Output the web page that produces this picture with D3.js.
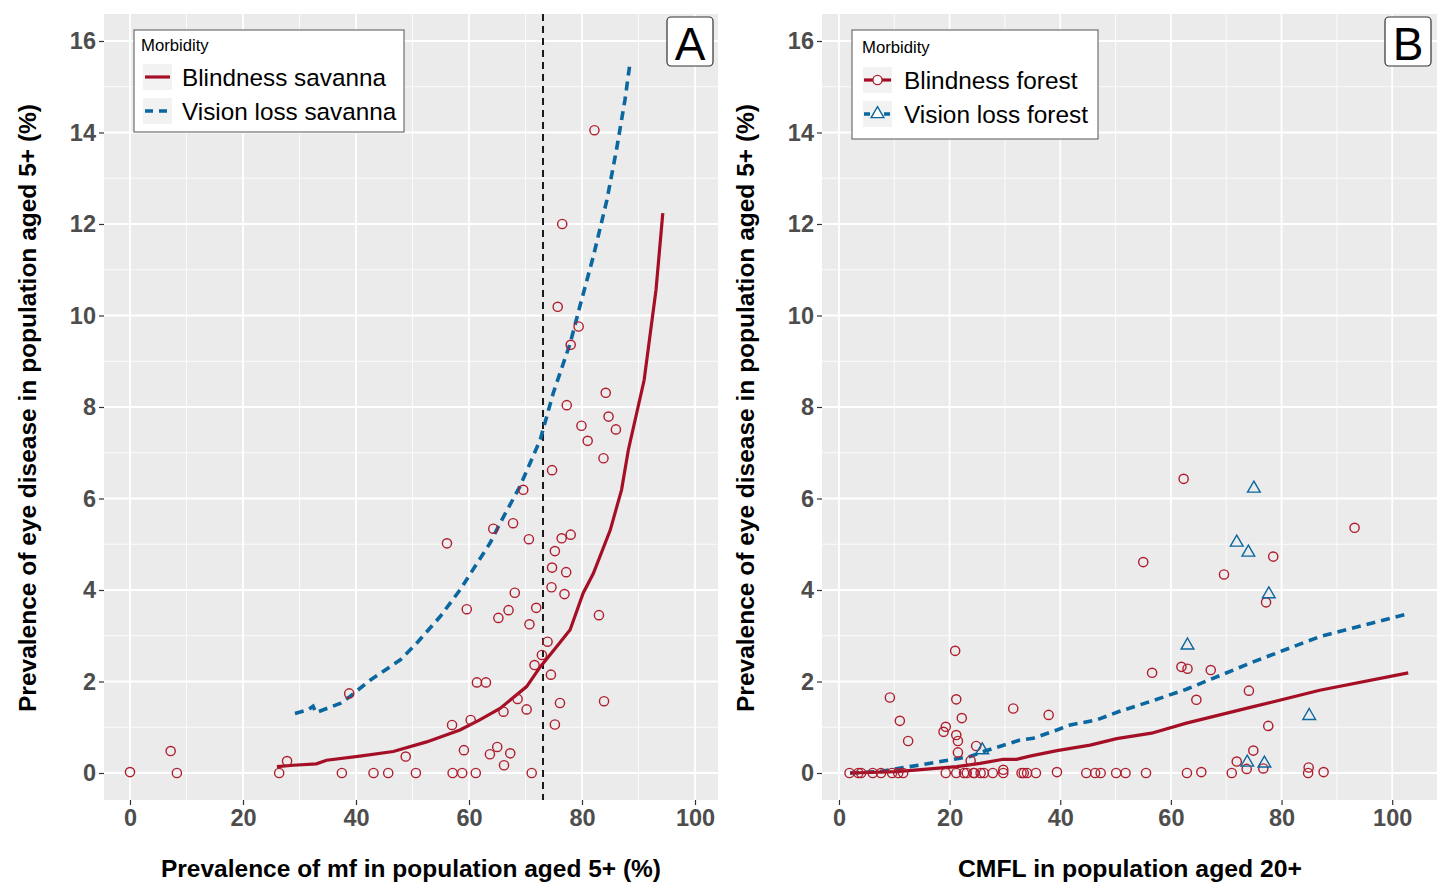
<!DOCTYPE html>
<html>
<head>
<meta charset="utf-8">
<script src="https://cdn.jsdelivr.net/npm/d3@7/dist/d3.min.js"></script>
<style>
  html, body { margin: 0; padding: 0; background: #fff; }
  svg { display: block; }
  text { font-family: "Liberation Sans", Arial, Helvetica, sans-serif; }
</style>
</head>
<body>
<svg id="chart" width="1440" height="882"></svg>
<script>
// ---------------- DATA ----------------
// Panel A: observed blindness (savanna), x = mf prevalence (%), y = prevalence (%)
const obsA_x = [0, 7.2, 8.3, 26.4, 27.8, 37.5, 38.8, 43.1, 45.7, 48.8, 50.6, 56.1, 57.0, 57.1, 58.8, 59.1, 59.6, 60.3, 61.2, 61.4, 63.0, 63.7, 64.3, 65.0, 65.2, 66.1, 66.2, 67.0, 67.3, 67.8, 68.1, 68.6, 69.6, 70.2, 70.6, 70.7, 71.1, 71.9, 71.6, 72.9, 73.9, 74.5, 74.7, 74.6, 74.7, 75.2, 75.2, 75.7, 76.5, 76.1, 76.4, 77.2, 76.9, 77.3, 78.0, 78.0, 79.4, 79.9, 81.0, 82.2, 83.0, 83.8, 83.9, 84.2, 84.7, 86.0];
const obsA_y = [0.02, 0.48, 0, 0, 0.26, 0, 1.74, 0, 0, 0.36, 0, 5.02, 1.05, 0, 0, 0.50, 3.58, 1.16, 0, 1.98, 1.98, 0.41, 5.34, 0.57, 3.39, 1.34, 0.17, 3.56, 0.43, 5.46, 3.94, 1.62, 6.19, 1.39, 5.11, 3.25, 0, 3.61, 2.36, 2.58, 2.87, 2.15, 6.62, 4.06, 4.49, 4.85, 1.06, 10.19, 12.0, 1.53, 5.13, 4.39, 3.91, 8.04, 5.21, 9.36, 9.76, 7.59, 7.26, 14.05, 3.45, 6.88, 1.57, 8.31, 7.79, 7.51];

const blindSav_x = [26.0, 28.9, 33.0, 34.8, 40.7, 46.6, 52.5, 58.4, 61.9, 65.5, 70.2, 72.6, 75.5, 77.9, 80.2, 82.0, 85.0, 87.0, 88.2, 91.0, 93.1, 94.3];
const blindSav_y = [0.14, 0.17, 0.20, 0.28, 0.37, 0.47, 0.68, 0.94, 1.16, 1.41, 1.89, 2.32, 2.76, 3.13, 3.93, 4.36, 5.31, 6.19, 7.06, 8.59, 10.56, 12.24];

const visSav_x = [29.2, 31.5, 32.4, 32.9, 37.2, 38.9, 42.5, 47.8, 50.7, 54.9, 58.4, 61.4, 63.7, 65.5, 69.0, 72.6, 74.9, 77.9, 79.6, 82.0, 84.4, 86.1, 87.6, 88.5];
const visSav_y = [1.30, 1.38, 1.46, 1.32, 1.52, 1.67, 2.03, 2.47, 2.83, 3.42, 4.00, 4.58, 5.02, 5.46, 6.26, 7.28, 8.30, 9.39, 10.19, 11.29, 12.52, 13.62, 14.71, 15.52];

const thresholdA = [73.1];

// Panel B: x = CMFL in population aged 20+
const obsBlindB_x = [1.9, 3.5, 4.0, 6.1, 7.6, 9.6, 10.7, 11.6, 19.3, 21.2, 22.6, 23.1, 24.3, 24.5, 25.6, 26.2, 27.8, 29.7, 29.7, 33.0, 33.4, 34.0, 35.6, 39.4, 44.7, 46.3, 47.3, 50.1, 51.8, 55.5, 62.9, 65.5, 71.0, 73.7, 76.7, 84.8, 84.9, 87.6,
  21.0, 9.2, 21.2, 31.5, 37.9, 11.0, 22.2, 19.3, 18.9, 21.2, 21.5, 12.5, 24.8, 21.5, 23.8,
  62.3, 93.2, 78.5, 55.0, 69.6, 77.2, 56.6, 61.9, 63.0, 67.2, 64.6, 74.1, 77.6, 74.9, 71.9];
const obsBlindB_y = [0, 0, 0, 0, 0, 0, 0, 0, 0, 0, 0, 0, 0, 0, 0, 0, 0, 0, 0.07, 0, 0, 0, 0, 0.02, 0, 0, 0, 0, 0, 0, 0, 0.02, 0, 0.09, 0.10, 0, 0.12, 0.02,
  2.67, 1.65, 1.61, 1.41, 1.27, 1.14, 1.20, 1.01, 0.90, 0.83, 0.70, 0.70, 0.59, 0.45, 0.27,
  6.43, 5.36, 4.73, 4.61, 4.34, 3.73, 2.19, 2.32, 2.28, 2.25, 1.60, 1.80, 1.03, 0.49, 0.25];

const obsVisB_x = [25.9, 75.0, 71.9, 74.0, 77.7, 63.0, 85.0, 73.8, 76.9];
const obsVisB_y = [0.50, 6.22, 5.04, 4.82, 3.91, 2.79, 1.25, 0.23, 0.21];

const blindFor_x = [2, 10.4, 21.3, 25.5, 29.7, 32.1, 34.5, 39.4, 45.4, 50.2, 56.5, 62.8, 74.9, 86.9, 102.9];
const blindFor_y = [0, 0.03, 0.14, 0.21, 0.30, 0.30, 0.37, 0.49, 0.61, 0.75, 0.87, 1.09, 1.45, 1.81, 2.19];

const visFor_x = [2, 7.4, 12.8, 18.3, 23.7, 26.1, 30.9, 32.7, 35.1, 39.4, 41.8, 46.6, 50.5, 56.2, 62.8, 74.9, 86.9, 102.9];
const visFor_y = [0, 0.03, 0.14, 0.25, 0.36, 0.47, 0.65, 0.72, 0.76, 0.94, 1.05, 1.16, 1.34, 1.56, 1.83, 2.43, 2.98, 3.48];

const xTicks = [0, 20, 40, 60, 80, 100];
const yTicks = [0, 2, 4, 6, 8, 10, 12, 14, 16];
const xMinor = [10, 30, 50, 70, 90];
const yMinor = [1, 3, 5, 7, 9, 11, 13, 15];

const legendA = ["Blindness savanna", "Vision loss savanna"];
const legendB = ["Blindness forest", "Vision loss forest"];
const legendTitle = "Morbidity";

// ---------------- STYLE ----------------
const RED = "#a50f26";
const RED_PT = "#b01d2e";
const BLUE = "#0b679f";
const PANEL_BG = "#ebebeb";
const TICK_COL = "#4d4d4d";

const svg = d3.select("#chart");
const pTop = 14, pBottom = 800;
const y = d3.scaleLinear().domain([-0.59, 16.59]).range([pBottom, pTop]);

function panel(cfg) {
  const x = d3.scaleLinear().domain(cfg.xDomain).range([cfg.left, cfg.right]);
  const g = svg.append("g");
  g.append("rect").attr("x", cfg.left).attr("y", pTop)
    .attr("width", cfg.right - cfg.left).attr("height", pBottom - pTop).attr("fill", PANEL_BG);
  g.selectAll(".vminor").data(xMinor).enter().append("line")
    .attr("x1", d => x(d)).attr("x2", d => x(d)).attr("y1", pTop).attr("y2", pBottom)
    .attr("stroke", "#fff").attr("stroke-width", 0.8);
  g.selectAll(".hminor").data(yMinor).enter().append("line")
    .attr("y1", d => y(d)).attr("y2", d => y(d)).attr("x1", cfg.left).attr("x2", cfg.right)
    .attr("stroke", "#fff").attr("stroke-width", 0.8);
  g.selectAll(".vmajor").data(xTicks).enter().append("line")
    .attr("x1", d => x(d)).attr("x2", d => x(d)).attr("y1", pTop).attr("y2", pBottom)
    .attr("stroke", "#fff").attr("stroke-width", 1.8);
  g.selectAll(".hmajor").data(yTicks).enter().append("line")
    .attr("y1", d => y(d)).attr("y2", d => y(d)).attr("x1", cfg.left).attr("x2", cfg.right)
    .attr("stroke", "#fff").attr("stroke-width", 1.8);

  const ax = g.append("g").attr("transform", `translate(0,${pBottom})`)
    .call(d3.axisBottom(x).tickValues(xTicks).tickSize(5).tickPadding(4).tickFormat(d3.format("d")));
  const ay = g.append("g").attr("transform", `translate(${cfg.left},0)`)
    .call(d3.axisLeft(y).tickValues(yTicks).tickSize(5).tickPadding(3).tickFormat(d3.format("d")));
  [ax, ay].forEach(a => {
    a.select(".domain").remove();
    a.selectAll(".tick line").attr("stroke", "#333").attr("stroke-width", 1.2);
    a.selectAll(".tick text").attr("fill", TICK_COL).attr("font-size", 23.5)
      .attr("font-weight", "bold").attr("font-family", '"Liberation Sans", Arial, sans-serif');
  });

  g.append("text").attr("x", cfg.xTitleX).attr("y", 877).attr("text-anchor", "middle")
    .attr("font-size", 23).attr("font-weight", "bold").attr("fill", "#000")
    .attr("textLength", cfg.xTitleLen).attr("lengthAdjust", "spacingAndGlyphs")
    .text(cfg.xTitle);
  g.append("text").attr("transform", `translate(${cfg.yTitleX},408) rotate(-90)`)
    .attr("text-anchor", "middle").attr("font-size", 23).attr("font-weight", "bold").attr("fill", "#000")
    .attr("textLength", 608).attr("lengthAdjust", "spacingAndGlyphs")
    .text("Prevalence of eye disease in population aged 5+ (%)");

  const clip = "clip" + cfg.id;
  svg.append("clipPath").attr("id", clip).append("rect")
    .attr("x", cfg.left).attr("y", pTop).attr("width", cfg.right - cfg.left).attr("height", pBottom - pTop);
  const plot = g.append("g").attr("clip-path", `url(#${clip})`);
  return { x, g, plot };
}

function lineOf(xs, ys) { return xs.map((d, i) => [d, ys[i]]); }
function ptsOf(xs, ys) { return xs.map((d, i) => ({ x: d, y: ys[i] })); }

// ---------------- PANEL A ----------------
const A = panel({ id: "A", left: 104, right: 718, xDomain: [-4.6, 104.07],
  xTitle: "Prevalence of mf in population aged 5+ (%)", xTitleX: 411, xTitleLen: 500, yTitleX: 36 });
{
  const x = A.x, p = A.plot;
  const line = d3.line().x(d => x(d[0])).y(d => y(d[1]));
  p.append("line").attr("x1", x(thresholdA[0])).attr("x2", x(thresholdA[0]))
    .attr("y1", pTop).attr("y2", pBottom).attr("stroke", "#1a1a1a").attr("stroke-width", 2)
    .attr("stroke-dasharray", "7,5");
  p.append("path").datum(lineOf(visSav_x, visSav_y)).attr("d", line).attr("fill", "none")
    .attr("stroke", BLUE).attr("stroke-width", 3.6).attr("stroke-dasharray", "9,6");
  p.append("path").datum(lineOf(blindSav_x, blindSav_y)).attr("d", line).attr("fill", "none")
    .attr("stroke", RED).attr("stroke-width", 3.2);
  p.selectAll("circle.obs").data(ptsOf(obsA_x, obsA_y)).enter().append("circle")
    .attr("cx", d => x(d.x)).attr("cy", d => y(d.y)).attr("r", 4.6)
    .attr("fill", "none").attr("stroke", RED_PT).attr("stroke-width", 1.4);

  const lg = A.g.append("g");
  lg.append("rect").attr("x", 134).attr("y", 30).attr("width", 270).attr("height", 102)
    .attr("fill", "#fff").attr("stroke", "#555").attr("stroke-width", 1);
  lg.append("text").attr("x", 141).attr("y", 51).attr("font-size", 16.7).attr("fill", "#000").text(legendTitle);
  const rows = [77, 111];
  rows.forEach((cy, i) => {
    lg.append("rect").attr("x", 143).attr("y", cy - 13).attr("width", 29).attr("height", 26).attr("fill", "#f2f2f2");
    lg.append("line").attr("x1", 145).attr("x2", 170).attr("y1", cy).attr("y2", cy)
      .attr("stroke", i === 0 ? RED : BLUE).attr("stroke-width", i === 0 ? 3.2 : 3.6)
      .attr("stroke-dasharray", i === 0 ? null : "8,6");
    lg.append("text").attr("x", 182).attr("y", cy + 9).attr("font-size", 24.3).attr("fill", "#000").text(legendA[i]);
  });
  A.g.append("rect").attr("x", 667).attr("y", 17).attr("width", 46).attr("height", 49).attr("rx", 4)
    .attr("fill", "#fff").attr("stroke", "#333").attr("stroke-width", 1.2);
  A.g.append("text").attr("x", 690).attr("y", 60).attr("text-anchor", "middle").attr("font-size", 46).attr("fill", "#000").text("A");
}

// ---------------- PANEL B ----------------
const B = panel({ id: "B", left: 822, right: 1437, xDomain: [-3.07, 108.1],
  xTitle: "CMFL in population aged 20+", xTitleX: 1130, xTitleLen: 344, yTitleX: 754 });
{
  const x = B.x, p = B.plot;
  const line = d3.line().x(d => x(d[0])).y(d => y(d[1]));
  const tri = d3.symbol().type(d3.symbolTriangle).size(70);
  p.append("path").datum(lineOf(visFor_x, visFor_y)).attr("d", line).attr("fill", "none")
    .attr("stroke", BLUE).attr("stroke-width", 3.6).attr("stroke-dasharray", "9,6");
  p.append("path").datum(lineOf(blindFor_x, blindFor_y)).attr("d", line).attr("fill", "none")
    .attr("stroke", RED).attr("stroke-width", 3.2);
  p.selectAll("circle.obs").data(ptsOf(obsBlindB_x, obsBlindB_y)).enter().append("circle")
    .attr("cx", d => x(d.x)).attr("cy", d => y(d.y)).attr("r", 4.6)
    .attr("fill", "none").attr("stroke", RED_PT).attr("stroke-width", 1.4);
  p.selectAll("path.tri").data(ptsOf(obsVisB_x, obsVisB_y)).enter().append("path")
    .attr("d", tri).attr("transform", d => `translate(${x(d.x)},${y(d.y)})`)
    .attr("fill", "none").attr("stroke", BLUE).attr("stroke-width", 1.4);

  const lg = B.g.append("g");
  lg.append("rect").attr("x", 852).attr("y", 30).attr("width", 246).attr("height", 109)
    .attr("fill", "#fff").attr("stroke", "#555").attr("stroke-width", 1);
  lg.append("text").attr("x", 862).attr("y", 53).attr("font-size", 16.7).attr("fill", "#000").text(legendTitle);
  const rows = [80, 114];
  rows.forEach((cy, i) => {
    lg.append("rect").attr("x", 863).attr("y", cy - 13).attr("width", 29).attr("height", 26).attr("fill", "#f2f2f2");
    lg.append("line").attr("x1", 864).attr("x2", 891).attr("y1", cy).attr("y2", cy)
      .attr("stroke", i === 0 ? RED : BLUE).attr("stroke-width", i === 0 ? 3.2 : 3.6)
      .attr("stroke-dasharray", i === 0 ? null : "6,4");
    if (i === 0) {
      lg.append("circle").attr("cx", 877.5).attr("cy", cy).attr("r", 4.6).attr("fill", "#fff")
        .attr("stroke", RED_PT).attr("stroke-width", 1.4);
    } else {
      lg.append("path").attr("d", tri).attr("transform", `translate(877.5,${cy})`).attr("fill", "#fff")
        .attr("stroke", BLUE).attr("stroke-width", 1.4);
    }
    lg.append("text").attr("x", 904).attr("y", cy + 9).attr("font-size", 24.4).attr("fill", "#000").text(legendB[i]);
  });
  B.g.append("rect").attr("x", 1385).attr("y", 17).attr("width", 46).attr("height", 49).attr("rx", 4)
    .attr("fill", "#fff").attr("stroke", "#333").attr("stroke-width", 1.2);
  B.g.append("text").attr("x", 1408).attr("y", 60).attr("text-anchor", "middle").attr("font-size", 46).attr("fill", "#000").text("B");
}
</script>
</body>
</html>
